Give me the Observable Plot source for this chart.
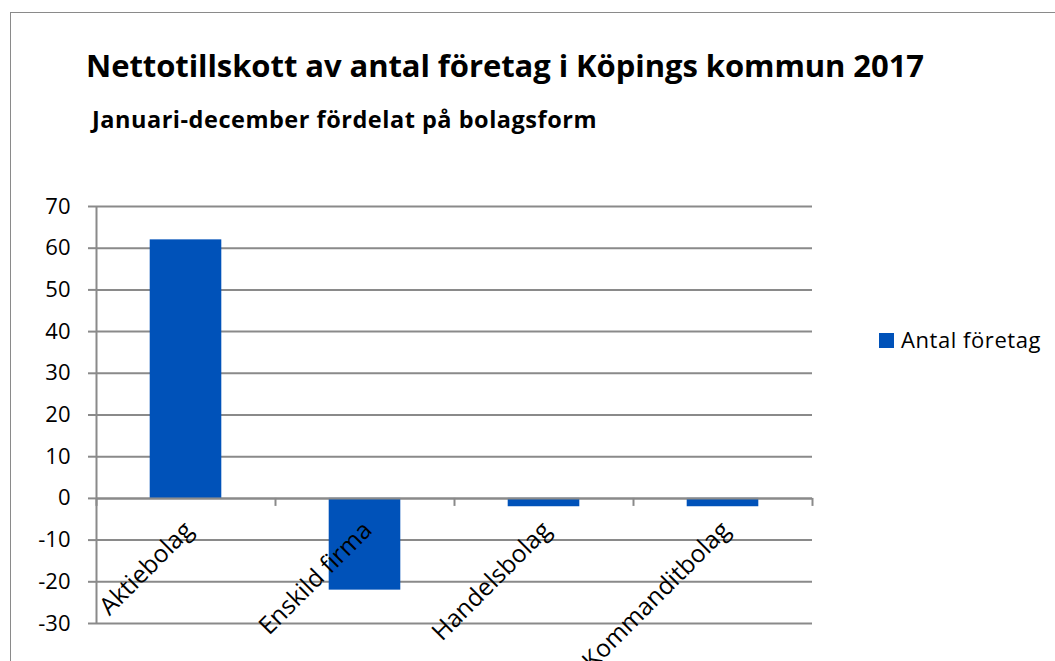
<!DOCTYPE html>
<html>
<head>
<meta charset="utf-8">
<script src="https://cdn.jsdelivr.net/npm/d3@7"></script>
<script src="https://cdn.jsdelivr.net/npm/@observablehq/plot@0.6"></script>
<style>
  html, body { margin: 0; padding: 0; background: #fff; overflow: hidden; }
  body { width: 1055px; height: 661px; position: relative; font-family: "Open Sans", Lato, sans-serif; color: #000; }
  #frame { position: absolute; left: 10px; top: 12px; width: 1100px; height: 700px; border-left: 1.5px solid #8a8a8a; border-top: 1.5px solid #8a8a8a; }
  #title { position: absolute; left: 86px; top: 49.5px; font-size: 31px; font-weight: bold; white-space: nowrap; line-height: 31px; }
  #subtitle { position: absolute; left: 92px; top: 108px; font-size: 23.5px; font-weight: bold; white-space: nowrap; line-height: 23.5px; }
  #chart { position: absolute; left: 0; top: 180px; }
  #legendSwatch { position: absolute; left: 879px; top: 333px; width: 15px; height: 15px; background: #0052B9; }
  #legendLabel { position: absolute; left: 901px; top: 327.5px; font-size: 22px; line-height: 22px; white-space: nowrap; }
</style>
</head>
<body>
<div id="frame"></div>
<div id="title">Nettotillskott av antal företag i Köpings kommun 2017</div>
<div id="subtitle">Januari-december fördelat på bolagsform</div>
<div id="chart"></div>
<div id="legendSwatch"></div>
<div id="legendLabel"></div>
<script>
const categories = ["Aktiebolag", "Enskild firma", "Handelsbolag", "Kommanditbolag"];
const values = [62, -22, -2, -2];
const yTicks = [-30, -20, -10, 0, 10, 20, 30, 40, 50, 60, 70];
const seriesName = "Antal företag";

const barColor = "#0052B9";
const gridColor = "#8a8a8a";

const rows = categories.map((c, i) => ({category: c, index: i, value: values[i]}));
const boundaries = d3.range(categories.length + 1);

document.getElementById("legendLabel").textContent = seriesName;

// stretch header texts to the reference widths via letter-spacing
function fitWidth(id, target) {
  const el = document.getElementById(id);
  const w = el.getBoundingClientRect().width;
  const n = el.textContent.length;
  el.style.letterSpacing = ((target - w) / n) + "px";
}
fitWidth("title", 838);
fitWidth("subtitle", 505);
fitWidth("legendLabel", 140);

const chart = Plot.plot({
  width: 1055,
  height: 481,
  marginLeft: 96,
  marginRight: 243,
  marginTop: 26,
  marginBottom: 38,
  style: {fontFamily: "'Open Sans', Lato, sans-serif", color: "#000", background: "transparent", overflow: "visible"},
  x: {type: "linear", domain: [0, categories.length], axis: null},
  y: {domain: [-30, 70], axis: null},
  marks: [
    Plot.ruleY(yTicks, {stroke: gridColor, strokeWidth: 2}),
    Plot.axisY(yTicks, {tickSize: 8, tickPadding: 18, stroke: gridColor, strokeWidth: 2, fontSize: 22, fill: "#000", label: null, tickFormat: d => String(d)}),
    Plot.rectY(rows, {x1: d => d.index + 0.3, x2: d => d.index + 0.7, y: "value", fill: barColor}),
    Plot.ruleX(boundaries, {y1: 0, y2: 0, insetBottom: -8, stroke: gridColor, strokeWidth: 2}),
    Plot.ruleY([0], {stroke: gridColor, strokeWidth: 2}),
    Plot.ruleX([0], {y1: -30, y2: 70, stroke: gridColor, strokeWidth: 2}),
    Plot.text(rows, {x: d => d.index + 0.5, y: () => 0, text: "category", rotate: -45, textAnchor: "end", lineAnchor: "top", dx: -4, dy: 21, fontSize: 24.5, fill: "#000"})
  ]
});
document.getElementById("chart").appendChild(chart);
</script>
</body>
</html>
